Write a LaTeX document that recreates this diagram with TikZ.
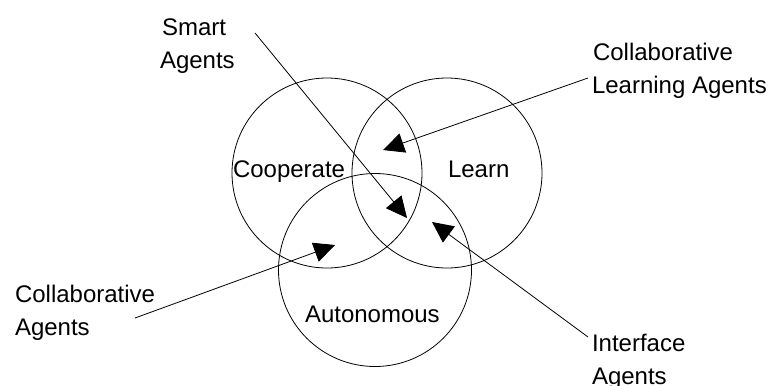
\documentclass[tikz,border=0pt]{standalone}
\usepackage{fontspec}
\setmainfont{Liberation Sans}
\usetikzlibrary{arrows.meta}
\tikzset{
  venn/.style={circle, draw, line width=0.8bp, minimum size=#1, inner sep=0pt, outer sep=0pt},
  lbl/.style={anchor=base west, inner sep=0pt, outer sep=0pt, font=\fontsize{24bp}{33bp}\selectfont},
  pointer/.style={line width=0.8bp, -{Triangle[length=21bp,width=20bp]}}
}
\begin{document}
\begin{tikzpicture}[x=1bp, y=-1bp]
\useasboundingbox[fill=white] (0,0) rectangle (771,385);
% circles
\node[venn=190bp] (coop) at (327,173) {};
\node[venn=190bp] (learn) at (447,173) {};
\node[venn=193bp] (auto) at (375,270) {};
% circle labels
\node[lbl] (tcoop) at (233,177) {Cooperate};
\node[lbl] (tlearn) at (448,177) {Learn};
\node[lbl] (tauto) at (305,322) {Autonomous};
% outer labels
\node[lbl] (smartA) at (162,35) {Smart};
\node[lbl] (smartB) at (160,68) {Agents};
\node[lbl] (clA) at (593,60) {Collaborative};
\node[lbl] (clB) at (592,93) {Learning Agents};
\node[lbl] (caA) at (15,302) {Collaborative};
\node[lbl] (caB) at (15,335) {Agents};
\node[lbl] (iaA) at (592,351) {Interface};
\node[lbl] (iaB) at (592,384) {Agents};
% connector ends
\coordinate (smartS) at (255,33);
\coordinate (smartT) at (407,218);
\coordinate (clS) at (588,78);
\coordinate (clT) at (383,150);
\coordinate (caS) at (135,318);
\coordinate (caT) at (335,245);
\coordinate (iaS) at (588,337);
\coordinate (iaT) at (432,222);
% connectors
\draw[pointer] (smartS) -- (smartT);
\draw[pointer] (clS) -- (clT);
\draw[pointer] (caS) -- (caT);
\draw[pointer] (iaS) -- (iaT);
\end{tikzpicture}
\end{document}
